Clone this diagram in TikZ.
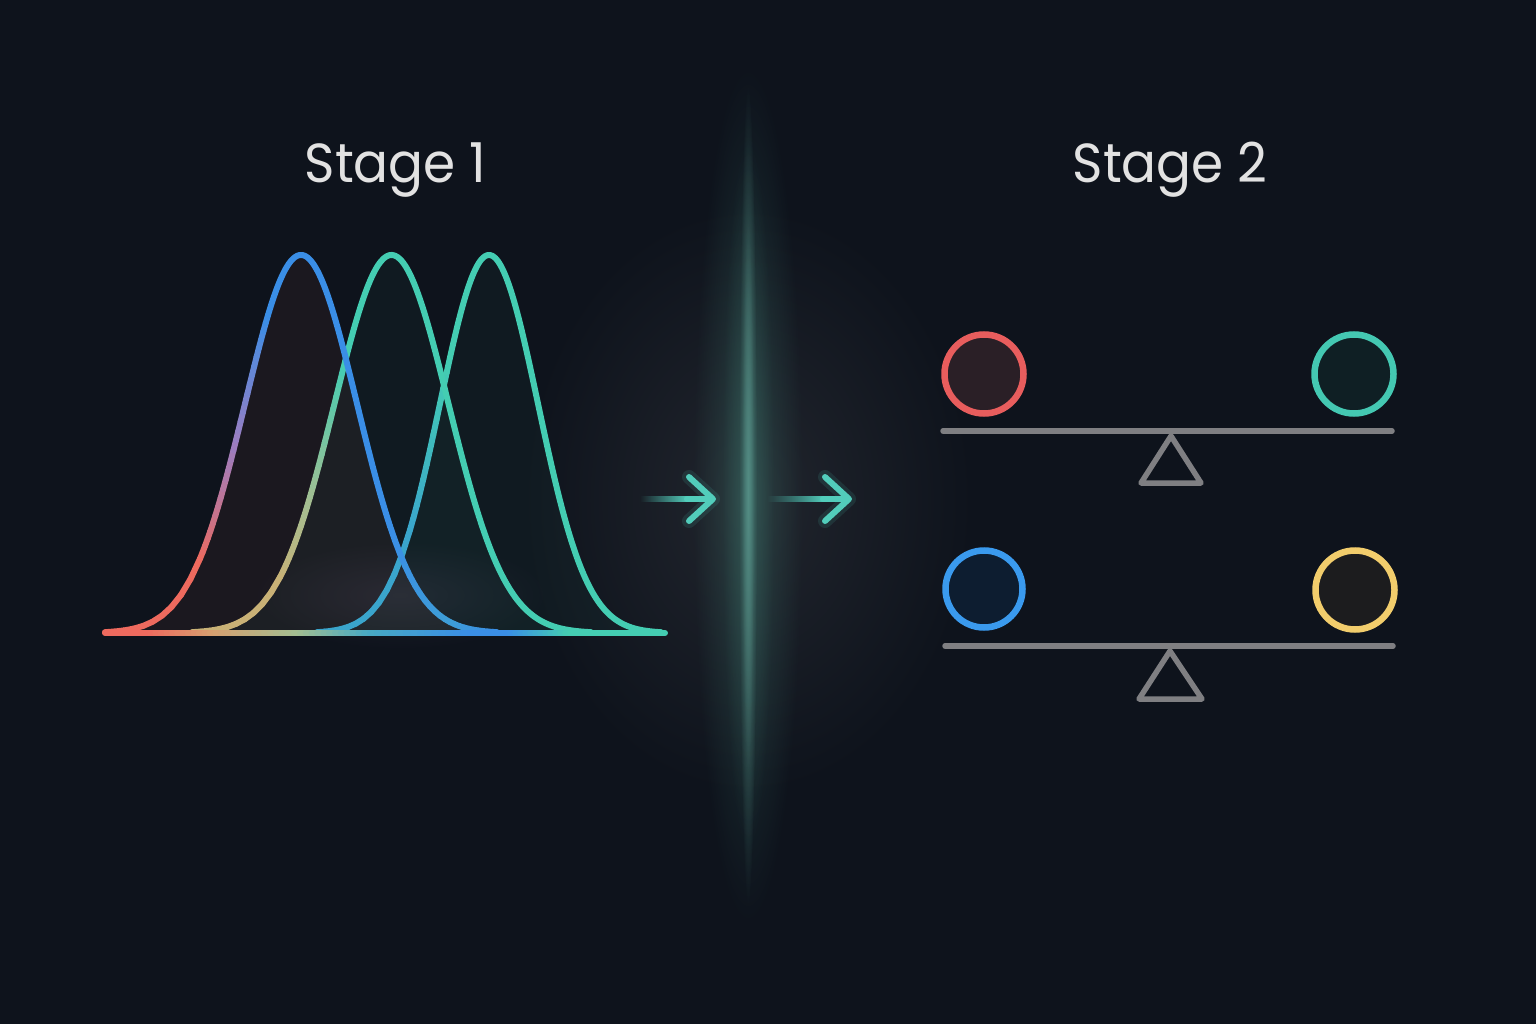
\documentclass[tikz,border=0pt]{standalone}
\usepackage{fontspec}
\setmainfont{Poppins}[FakeStretch=0.94]
\usetikzlibrary{fadings}

\definecolor{bgc}{HTML}{0E131C}
\definecolor{textc}{HTML}{E2E2E2}
\definecolor{cred}{HTML}{EE6A5E}
\definecolor{corange}{HTML}{D6A070}
\definecolor{cpurple}{HTML}{9A7EC2}
\definecolor{cblue}{HTML}{3A8EE6}
\definecolor{cblue2}{HTML}{3E9ED6}
\definecolor{cteal}{HTML}{44CDB2}
\definecolor{ctan}{HTML}{C9B176}
\definecolor{ctangreen}{HTML}{A2BE92}
\definecolor{cbt}{HTML}{3AA5CC}
\definecolor{cbt2}{HTML}{48AAC4}
\definecolor{cgray}{HTML}{7F7F82}
\definecolor{cyellow}{HTML}{F2CD6C}
\definecolor{ccred}{HTML}{E85D5D}
\definecolor{ccblue}{HTML}{3A9AEE}
\definecolor{ccteal}{HTML}{44C8B2}
\definecolor{arrowc}{HTML}{52CDBB}
\definecolor{linec}{HTML}{5C9A90}
\definecolor{glowc}{HTML}{3A6E66}
\definecolor{haloc}{HTML}{22262E}
\definecolor{purpglow}{HTML}{6A5A78}

\tikzfading[name=radfade, inner color=transparent!0, outer color=transparent!100]
\tikzfading[name=shaftfade, left color=transparent!100, right color=transparent!0]

\pgfmathdeclarefunction{gy}{3}{\pgfmathparse{633-378*exp(-0.5*((#1-#2)/#3)*((#1-#2)/#3))}}

\tikzset{
  curvestroke/.style={line width=6pt, line cap=round, line join=round},
  seesaw/.style={draw=cgray, line width=5.5pt, line cap=round, line join=round},
  ball/.style={circle, line width=6.5pt, minimum size=79pt, inner sep=0pt},
  stagelbl/.style={text=textc, font=\fontsize{55pt}{60pt}\selectfont, anchor=base, inner sep=0pt},
  arrowline/.style={draw=arrowc, line width=6pt, line cap=round, line join=round},
  arrowglow/.style={draw=arrowc, line width=14pt, line cap=round, line join=round, opacity=0.12},
  glowell/.style={path fading=radfade}
}

% gradient along a gaussian: mu, sigma, xa, xb, colA, colB, n
\newcommand\gradseg[7]{%
  \foreach \k in {1,...,#7}{%
    \pgfmathsetmacro\xa{#3+(#4-#3)*(\k-1)/#7}%
    \pgfmathsetmacro\xb{#3+(#4-#3)*\k/#7}%
    \pgfmathsetmacro\pc{100-100*(\k-0.5)/#7}%
    \pgfmathsetmacro\ya{gy(\xa,#1,#2)}%
    \pgfmathsetmacro\yb{gy(\xb,#1,#2)}%
    \draw[curvestroke, draw=#5!\pc!#6] (\xa,\ya) -- (\xb,\yb);
  }}
% gradient along the baseline: xa, xb, colA, colB, n
\newcommand\baseseg[5]{%
  \foreach \k in {1,...,#5}{%
    \pgfmathsetmacro\xa{#1+(#2-#1)*(\k-1)/#5}%
    \pgfmathsetmacro\xb{#1+(#2-#1)*\k/#5}%
    \pgfmathsetmacro\pc{100-100*(\k-0.5)/#5}%
    \draw[curvestroke, draw=#3!\pc!#4] (\xa,633) -- (\xb,633);
  }}

\begin{document}
\begin{tikzpicture}[x=1pt,y=-1pt]
\useasboundingbox (0,0) rectangle (1536,1024);
\fill[bgc] (0,0) rectangle (1536,1024);

\begin{scope}
\clip (0,0) rectangle (1536,1024);
% soft halo around the divider
\fill[haloc, glowell] (748,500) ellipse [x radius=230, y radius=300];
% wide teal glow
\fill[glowc, glowell, opacity=0.45] (748,495) ellipse [x radius=55, y radius=430];
\fill[glowc, glowell, opacity=0.45] (748,495) ellipse [x radius=26, y radius=360];
% core line
\fill[linec, glowell, opacity=0.65] (748,495) ellipse [x radius=9, y radius=410];
\fill[linec, glowell, opacity=0.45] (748,495) ellipse [x radius=6, y radius=280];
\end{scope}

% titles
\node[stagelbl] (s1) at (395.5,183) {Stage 1};
\node[stagelbl] (s2) at (1170,183) {Stage 2};

% fills under the curves
\fill[cred, fill opacity=0.06] plot[domain=105:497, samples=90] (\x,{gy(\x,301,56)}) -- cycle;
\fill[cteal, fill opacity=0.04] plot[domain=192:591, samples=90] (\x,{gy(\x,391.5,57)}) -- cycle;
\fill[cteal, fill opacity=0.04] plot[domain=317:661, samples=90] (\x,{gy(\x,489,49)}) -- cycle;
\fill[purpglow, glowell, opacity=0.18] (400,595) ellipse [x radius=150, y radius=55];

% curve 3
\gradseg{489}{49}{317}{410}{cbt}{cbt}{12}
\gradseg{489}{49}{410}{450}{cbt}{cteal}{12}
\draw[curvestroke, cteal] plot[domain=450:661, samples=80, smooth] (\x,{gy(\x,489,49)});
% curve 2
\gradseg{391.5}{57}{192}{280}{ctan}{ctan}{10}
\gradseg{391.5}{57}{280}{310}{ctan}{ctangreen}{10}
\gradseg{391.5}{57}{310}{345}{ctangreen}{cteal}{12}
\draw[curvestroke, cteal] plot[domain=345:591, samples=90, smooth] (\x,{gy(\x,391.5,57)});
% curve 1
\gradseg{301}{56}{105}{200}{cred}{cred}{10}
\gradseg{301}{56}{200}{236}{cred}{cpurple}{14}
\gradseg{301}{56}{236}{268}{cpurple}{cblue}{14}
\draw[curvestroke, cblue] plot[domain=268:390, samples=60, smooth] (\x,{gy(\x,301,56)});
\gradseg{301}{56}{390}{450}{cblue}{cblue2}{12}
\gradseg{301}{56}{450}{497}{cblue2}{cblue}{10}

% baseline
\baseseg{105}{150}{cred}{cred}{3}
\baseseg{150}{215}{cred}{corange}{12}
\baseseg{215}{300}{corange}{ctangreen}{14}
\baseseg{300}{370}{ctangreen}{cbt2}{12}
\baseseg{370}{470}{cbt2}{cblue}{14}
\baseseg{470}{510}{cblue}{cblue}{3}
\baseseg{510}{570}{cblue}{cteal}{12}
\baseseg{570}{665}{cteal}{cteal}{3}

% arrows
\coordinate (a1s) at (640,499);
\coordinate (a1t) at (713,499);
\coordinate (a1u) at (689,477);
\coordinate (a1d) at (689,521);
\coordinate (a2s) at (767,499);
\coordinate (a2t) at (849,499);
\coordinate (a2u) at (825,477);
\coordinate (a2d) at (825,521);
\fill[arrowc, path fading=shaftfade] ([yshift=-3pt]a1s) rectangle ([yshift=3pt,xshift=-25pt]a1t);
\fill[arrowc, path fading=shaftfade] ([yshift=-3pt]a2s) rectangle ([yshift=3pt,xshift=-25pt]a2t);
\draw[arrowline] ([xshift=-26pt]a1t) -- ([xshift=-2pt]a1t);
\draw[arrowline] ([xshift=-26pt]a2t) -- ([xshift=-2pt]a2t);
\draw[arrowglow] (a1u) -- (a1t) -- (a1d);
\draw[arrowglow] (a2u) -- (a2t) -- (a2d);
\draw[arrowline] (a1u) -- (a1t) -- (a1d);
\draw[arrowline] (a2u) -- (a2t) -- (a2d);

% seesaw 1
\coordinate (b1l) at (943,431);
\coordinate (b1r) at (1392,431);
\coordinate (t1a) at (1171,436);
\coordinate (t1l) at (1141,483);
\coordinate (t1r) at (1201,483);
\draw[seesaw] (b1l) -- (b1r);
\draw[seesaw] (t1a) -- (t1l) -- (t1r) -- cycle;
\node[ball, draw=ccred, fill={rgb,255:red,42;green,31;blue,38}] (redball) at (984,374) {};
\node[ball, draw=ccteal, fill={rgb,255:red,15;green,31;blue,36}] (tealball) at (1354,374) {};

% seesaw 2
\coordinate (b2l) at (945,646);
\coordinate (b2r) at (1393,646);
\coordinate (t2a) at (1170,651);
\coordinate (t2l) at (1139,699);
\coordinate (t2r) at (1202,699);
\draw[seesaw] (b2l) -- (b2r);
\draw[seesaw] (t2a) -- (t2l) -- (t2r) -- cycle;
\node[ball, draw=ccblue, fill={rgb,255:red,13;green,29;blue,48}, minimum size=77pt] (blueball) at (984,589) {};
\node[ball, draw=cyellow, fill={rgb,255:red,28;green,28;blue,30}, minimum size=79pt] (yellowball) at (1355,590) {};
\end{tikzpicture}
\end{document}
